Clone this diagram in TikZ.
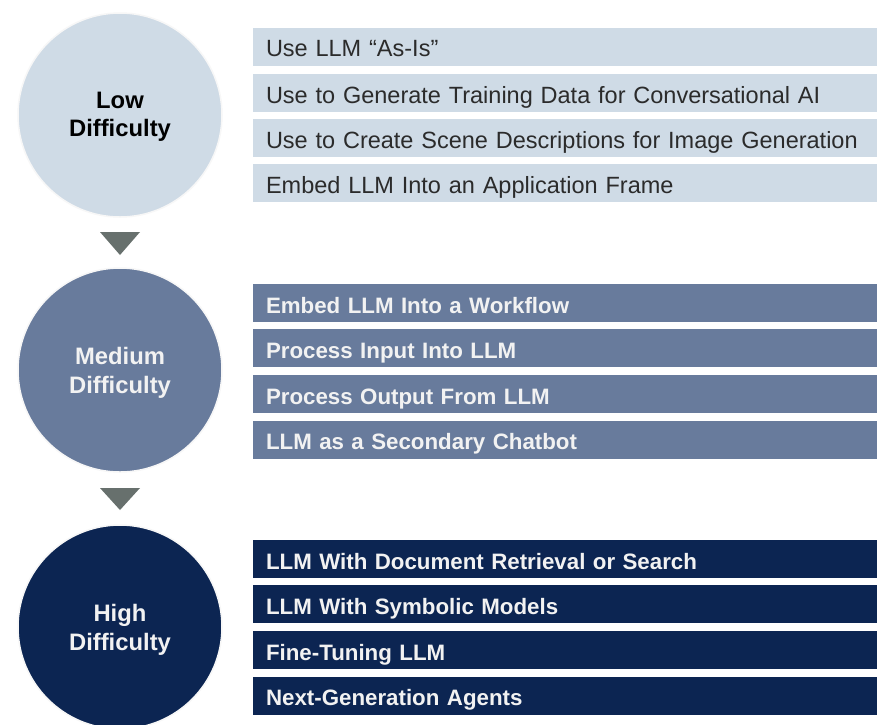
\documentclass[tikz,border=0pt]{standalone}
\usepackage{fontspec}
\setmainfont{Liberation Sans}
\definecolor{lowc}{HTML}{CFDBE6}
\definecolor{medc}{HTML}{687B9C}
\definecolor{highc}{HTML}{0C2552}
\definecolor{tric}{HTML}{67706D}
\definecolor{lowtxt}{HTML}{2B2B2B}
\definecolor{wtxt}{HTML}{F2F2F2}
\tikzset{
  lvl/.style={circle, minimum size=204pt, inner sep=0pt, align=center,
    font=\fontsize{23.8}{28.5}\selectfont\bfseries, draw=black!3, line width=1.5pt},
  lvltext/.style={yshift=-3pt},
  bar/.style={anchor=center, minimum width=624pt, minimum height=38pt,
    text width=598pt, inner xsep=13pt, inner ysep=0pt, align=left,
    text height=20.5pt, text depth=0pt},
  lowbar/.style={bar, fill=lowc, text=lowtxt, font=\fontsize{23.5}{27}\selectfont},
  medbar/.style={bar, fill=medc, text=wtxt, font=\fontsize{22.3}{27}\selectfont\bfseries},
  highbar/.style={bar, fill=highc, text=wtxt, font=\fontsize{22.3}{27}\selectfont\bfseries},
  tri/.style={fill=tric}
}
\begin{document}
\begin{tikzpicture}[x=1pt, y=-1pt]
\useasboundingbox (0,0) rectangle (877,724);
\clip (0,0) rectangle (877,724);
\fill[white] (0,0) rectangle (877,724);
% circles
\node[lvl, fill=lowc] (c1) at (120,115) {};
\node[lvl, fill=medc] (c2) at (120,370) {};
\node[lvl, fill=highc] (c3) at (120,627) {};
\node[align=center, font=\fontsize{23.8}{28.5}\selectfont\bfseries, text=black] (c1t) at ([yshift=-2pt]c1.center) {Low\\Difficulty};
\node[align=center, font=\fontsize{23.8}{28.5}\selectfont\bfseries, text=wtxt] (c2t) at ([yshift=-3pt]c2.center) {Medium\\Difficulty};
\node[align=center, font=\fontsize{23.8}{28.5}\selectfont\bfseries, text=wtxt] (c3t) at ([yshift=-3pt]c3.center) {High\\Difficulty};
% triangles
\fill[tri] (100,232) -- (140,232) -- (120,255) -- cycle;
\fill[tri] (100,488) -- (140,488) -- (120,510) -- cycle;
% low bars
\node[lowbar] (l1) at (565,46.5) {Use LLM “As-Is”};
\node[lowbar] (l2) at (565,93) {Use to Generate Training Data for Conversational AI};
\node[lowbar] (l3) at (565,138) {Use to Create Scene Descriptions for Image Generation};
\node[lowbar] (l4) at (565,183) {Embed LLM Into an Application Frame};
% medium bars
\node[medbar] (m1) at (565,303) {Embed LLM Into a Workflow};
\node[medbar] (m2) at (565,348) {Process Input Into LLM};
\node[medbar] (m3) at (565,394) {Process Output From LLM};
\node[medbar] (m4) at (565,439.5) {LLM as a Secondary Chatbot};
% high bars
\node[highbar] (h1) at (565,559) {LLM With Document Retrieval or Search};
\node[highbar] (h2) at (565,604) {LLM With Symbolic Models};
\node[highbar] (h3) at (565,650) {Fine-Tuning LLM};
\node[highbar] (h4) at (565,695.5) {Next-Generation Agents};
\end{tikzpicture}
\end{document}
